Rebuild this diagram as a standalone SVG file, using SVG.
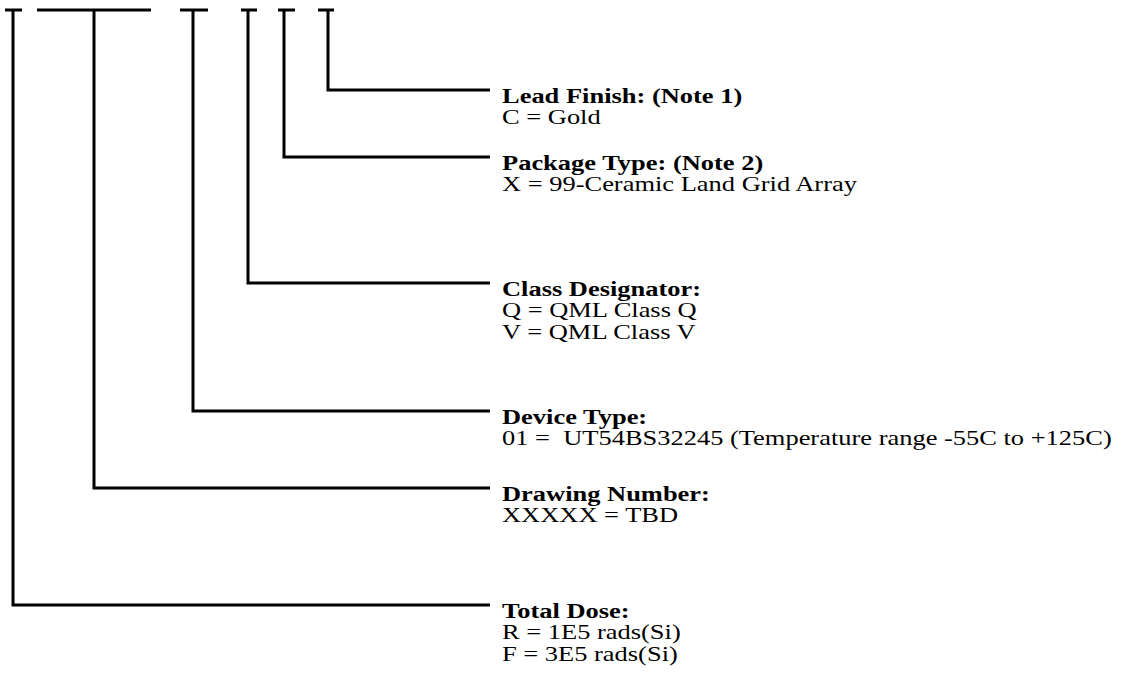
<svg xmlns="http://www.w3.org/2000/svg" width="1122" height="683" viewBox="0 0 1122 683">
<style>
.ln{fill:none;stroke:#000;stroke-width:3;stroke-linecap:butt;stroke-linejoin:miter}
.t{font-family:"Liberation Serif","Times New Roman",serif;font-size:21px;fill:#000}
.b{font-weight:bold}
</style>
<rect width="1122" height="683" fill="#fff"/>
<g id="connectors">
<path class="ln" d="M5,10H22M13,10V605H490"/>
<path class="ln" d="M37,10H151M94,10V488H490"/>
<path class="ln" d="M180,10H208M193,10V411H490"/>
<path class="ln" d="M241,10H257M248,10V283H490"/>
<path class="ln" d="M278,10H295M284,10V157H490"/>
<path class="ln" d="M318,10H334M328,10V90H490"/>
</g>
<g id="lead-finish" transform="translate(502 0) scale(1.26 1)">
<text class="t b" x="0" y="103">Lead Finish: (Note 1)</text>
<text class="t" x="0" y="124.5">C = Gold</text>
</g>
<g id="package-type" transform="translate(502 0) scale(1.26 1)">
<text class="t b" x="0" y="170">Package Type: (Note 2)</text>
<text class="t" x="0" y="191.5">X = 99-Ceramic Land Grid Array</text>
</g>
<g id="class-designator" transform="translate(502 0) scale(1.26 1)">
<text class="t b" x="0" y="296">Class Designator:</text>
<text class="t" x="0" y="317.5">Q = QML Class Q</text>
<text class="t" x="0" y="339">V = QML Class V</text>
</g>
<g id="device-type" transform="translate(502 0) scale(1.26 1)">
<text class="t b" x="0" y="424">Device Type:</text>
<text class="t" x="0" y="445.5" xml:space="preserve">01 =  UT54BS32245 (Temperature range -55C to +125C)</text>
</g>
<g id="drawing-number" transform="translate(502 0) scale(1.26 1)">
<text class="t b" x="0" y="501">Drawing Number:</text>
<text class="t" x="0" y="522.5">XXXXX = TBD</text>
</g>
<g id="total-dose" transform="translate(502 0) scale(1.26 1)">
<text class="t b" x="0" y="618">Total Dose:</text>
<text class="t" x="0" y="639.5">R = 1E5 rads(Si)</text>
<text class="t" x="0" y="661">F = 3E5 rads(Si)</text>
</g>
</svg>
